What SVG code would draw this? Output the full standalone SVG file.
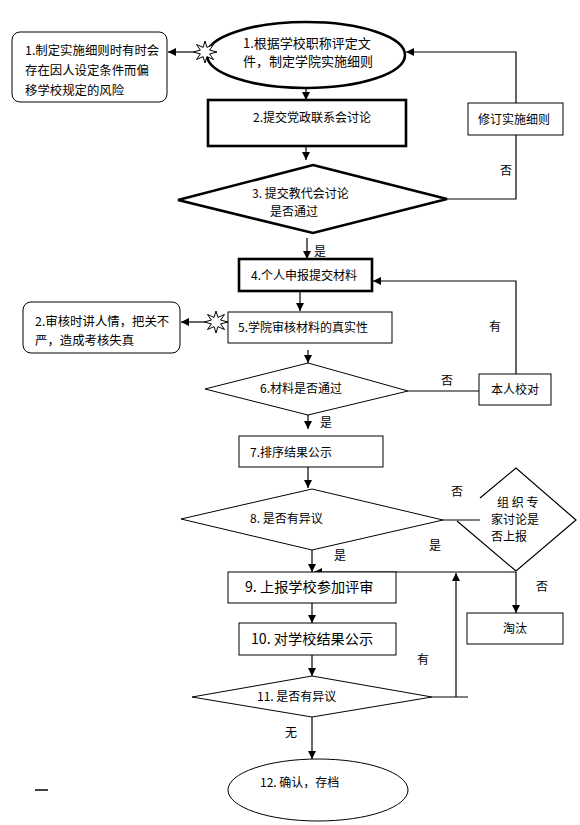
<svg xmlns="http://www.w3.org/2000/svg" width="580" height="825" viewBox="0 0 580 825">
<defs>
<style>
text{font-family:"Noto Sans CJK SC","Noto Sans",sans-serif;font-size:12px;fill:#000}
.thin{fill:#fff;stroke:#000;stroke-width:1}
.thick{fill:#fff;stroke:#000;stroke-width:2.6}
.c{fill:none;stroke:#000;stroke-width:1.2}
.t13{font-size:13px}
.t125{font-size:12.4px}
.t15{font-size:14.2px}
</style>
<marker id="ah" markerUnits="userSpaceOnUse" markerWidth="8" markerHeight="8" refX="8" refY="4" orient="auto">
<path d="M0,0 L8,4 L0,8 z" fill="#000"/>
</marker>
<path id="burst" d="M12,0 L4.6,1.9 L8.5,7.5 L1.9,4.6 L0,11 L-1.9,4.6 L-8.5,7.5 L-4.6,1.9 L-12,0 L-4.6,-1.9 L-8.5,-7.5 L-1.9,-4.6 L0,-11 L1.9,-4.6 L8.5,-7.5 L4.6,-1.9 Z" fill="#fff" stroke="#000" stroke-width="1"/>
</defs>

<g id="connectors">
<path class="c" d="M306,88 L306,100" marker-end="url(#ah)"/>
<path class="c" d="M306,146 L306,160" stroke-width="2" marker-end="url(#ah)"/>
<path class="c" d="M307,238 L307,259" stroke-width="2" marker-end="url(#ah)"/>
<path class="c" d="M447,199 L516,199 L516,135"/>
<path class="c" d="M516,103 L516,52 L406,52" marker-end="url(#ah)"/>
<path class="c" d="M193,52 L168,52" marker-end="url(#ah)"/>
<path class="c" d="M300,291 L300,311" marker-end="url(#ah)"/>
<path class="c" d="M204,322 L181,322" marker-end="url(#ah)"/>
<path class="c" d="M308,350 L308,363" marker-end="url(#ah)"/>
<path class="c" d="M408,391 L479,391"/>
<path class="c" d="M516,374 L516,281 L373,281" marker-end="url(#ah)"/>
<path class="c" d="M308,415 L308,429" marker-end="url(#ah)"/>
<path class="c" d="M308,467 L308,488" marker-end="url(#ah)"/>
<path class="c" d="M443,520 L480,520"/>
<path class="c" d="M312,550 L312,572" marker-end="url(#ah)"/>
<path class="c" d="M516,572 L314,572" marker-end="url(#ah)"/>
<path class="c" d="M516,572 L516,613" marker-end="url(#ah)"/>
<path class="c" d="M312,603 L312,623" marker-end="url(#ah)"/>
<path class="c" d="M312,655 L312,676" marker-end="url(#ah)"/>
<path class="c" d="M432,697 L468,697"/>
<path class="c" d="M456,697 L456,573" marker-end="url(#ah)"/>
<path class="c" d="M312,717 L312,759" marker-end="url(#ah)"/>
</g>

<g id="labels">
<text x="500" y="175">否</text>
<text x="314" y="256">是</text>
<text x="489" y="331">有</text>
<text x="441" y="385">否</text>
<text x="320" y="427">是</text>
<text x="451" y="496">否</text>
<text x="429" y="550">是</text>
<text x="334" y="560">是</text>
<text x="536" y="591">否</text>
<text x="417" y="664">有</text>
<text x="285" y="737">无</text>
</g>

<g id="n1">
<ellipse class="thick" cx="306" cy="55" rx="99" ry="33"/>
<text class="t13" x="243" y="48">1.根据学校职称评定文</text>
<text class="t13" x="243" y="66">件，制定学院实施细则</text>
</g>
<g id="burst1"><use href="#burst" x="205" y="52"/></g>
<g id="risk1">
<rect class="thin" x="12" y="32" width="155" height="70" rx="8"/>
<text class="t125" x="25" y="55">1.制定实施细则时有时会</text>
<text class="t125" x="25" y="75">存在因人设定条件而偏</text>
<text class="t125" x="25" y="95">移学校规定的风险</text>
</g>
<g id="n2">
<rect class="thick" x="208" y="100" width="198" height="46"/>
<text x="253" y="122">2.提交党政联系会讨论</text>
</g>
<g id="n3">
<polygon class="thick" points="313,165 447,199 313,233 178,200"/>
<text x="252" y="198">3. 提交教代会讨论</text>
<text x="270" y="216">是否通过</text>
</g>
<g id="revise">
<rect class="thin" x="468" y="103" width="95" height="32"/>
<text x="478" y="124">修订实施细则</text>
</g>
<g id="n4">
<rect class="thick" x="239" y="259" width="133" height="32"/>
<text x="251" y="280">4.个人申报提交材料</text>
</g>
<g id="n5">
<rect class="thin" x="228" y="312" width="164" height="31"/>
<text x="238" y="332">5.学院审核材料的真实性</text>
</g>
<g id="burst2"><use href="#burst" x="216" y="322"/></g>
<g id="risk2">
<rect class="thin" x="23" y="302" width="157" height="51" rx="8"/>
<text class="t125" x="35" y="326">2.审核时讲人情，把关不</text>
<text class="t125" x="35" y="345">严，造成考核失真</text>
</g>
<g id="n6">
<polygon class="thin" points="308,363 408,391 308,415 205,389"/>
<text x="260" y="393">6.材料是否通过</text>
</g>
<g id="check">
<rect class="thin" x="479" y="374" width="72" height="31"/>
<text x="491" y="394">本人校对</text>
</g>
<g id="n7">
<rect class="thin" x="239" y="436" width="144" height="31"/>
<text x="250" y="457">7.排序结果公示</text>
</g>
<g id="n8">
<polygon class="thin" points="312,489 443,520 312,550 181,519"/>
<text x="250" y="523">8. 是否有异议</text>
</g>
<g id="expert">
<path class="c" stroke-width="1" d="M480,498 L516,468 L576,520 L516,571 L457,521"/>
<text x="497" y="507">组 织 专</text>
<text x="491" y="524">家讨论是</text>
<text x="491" y="541">否上报</text>
</g>
<g id="out">
<rect class="thin" x="467" y="613" width="96" height="31"/>
<text x="503" y="633">淘汰</text>
</g>
<g id="n9">
<rect class="thin" x="228" y="572" width="168" height="31"/>
<text class="t15" x="245" y="592">9. 上报学校参加评审</text>
</g>
<g id="n10">
<rect class="thin" x="239" y="623" width="157" height="32"/>
<text class="t15" x="251" y="644">10. 对学校结果公示</text>
</g>
<g id="n11">
<polygon class="thin" points="312,676 432,697 312,717 192,697"/>
<text x="257" y="701">11. 是否有异议</text>
</g>
<g id="n12">
<ellipse class="thin" cx="318" cy="790" rx="90" ry="31"/>
<text x="260" y="787">12. 确认，存档</text>
</g>
<line x1="35" y1="790" x2="48" y2="790" stroke="#000" stroke-width="1.5"/>
</svg>
